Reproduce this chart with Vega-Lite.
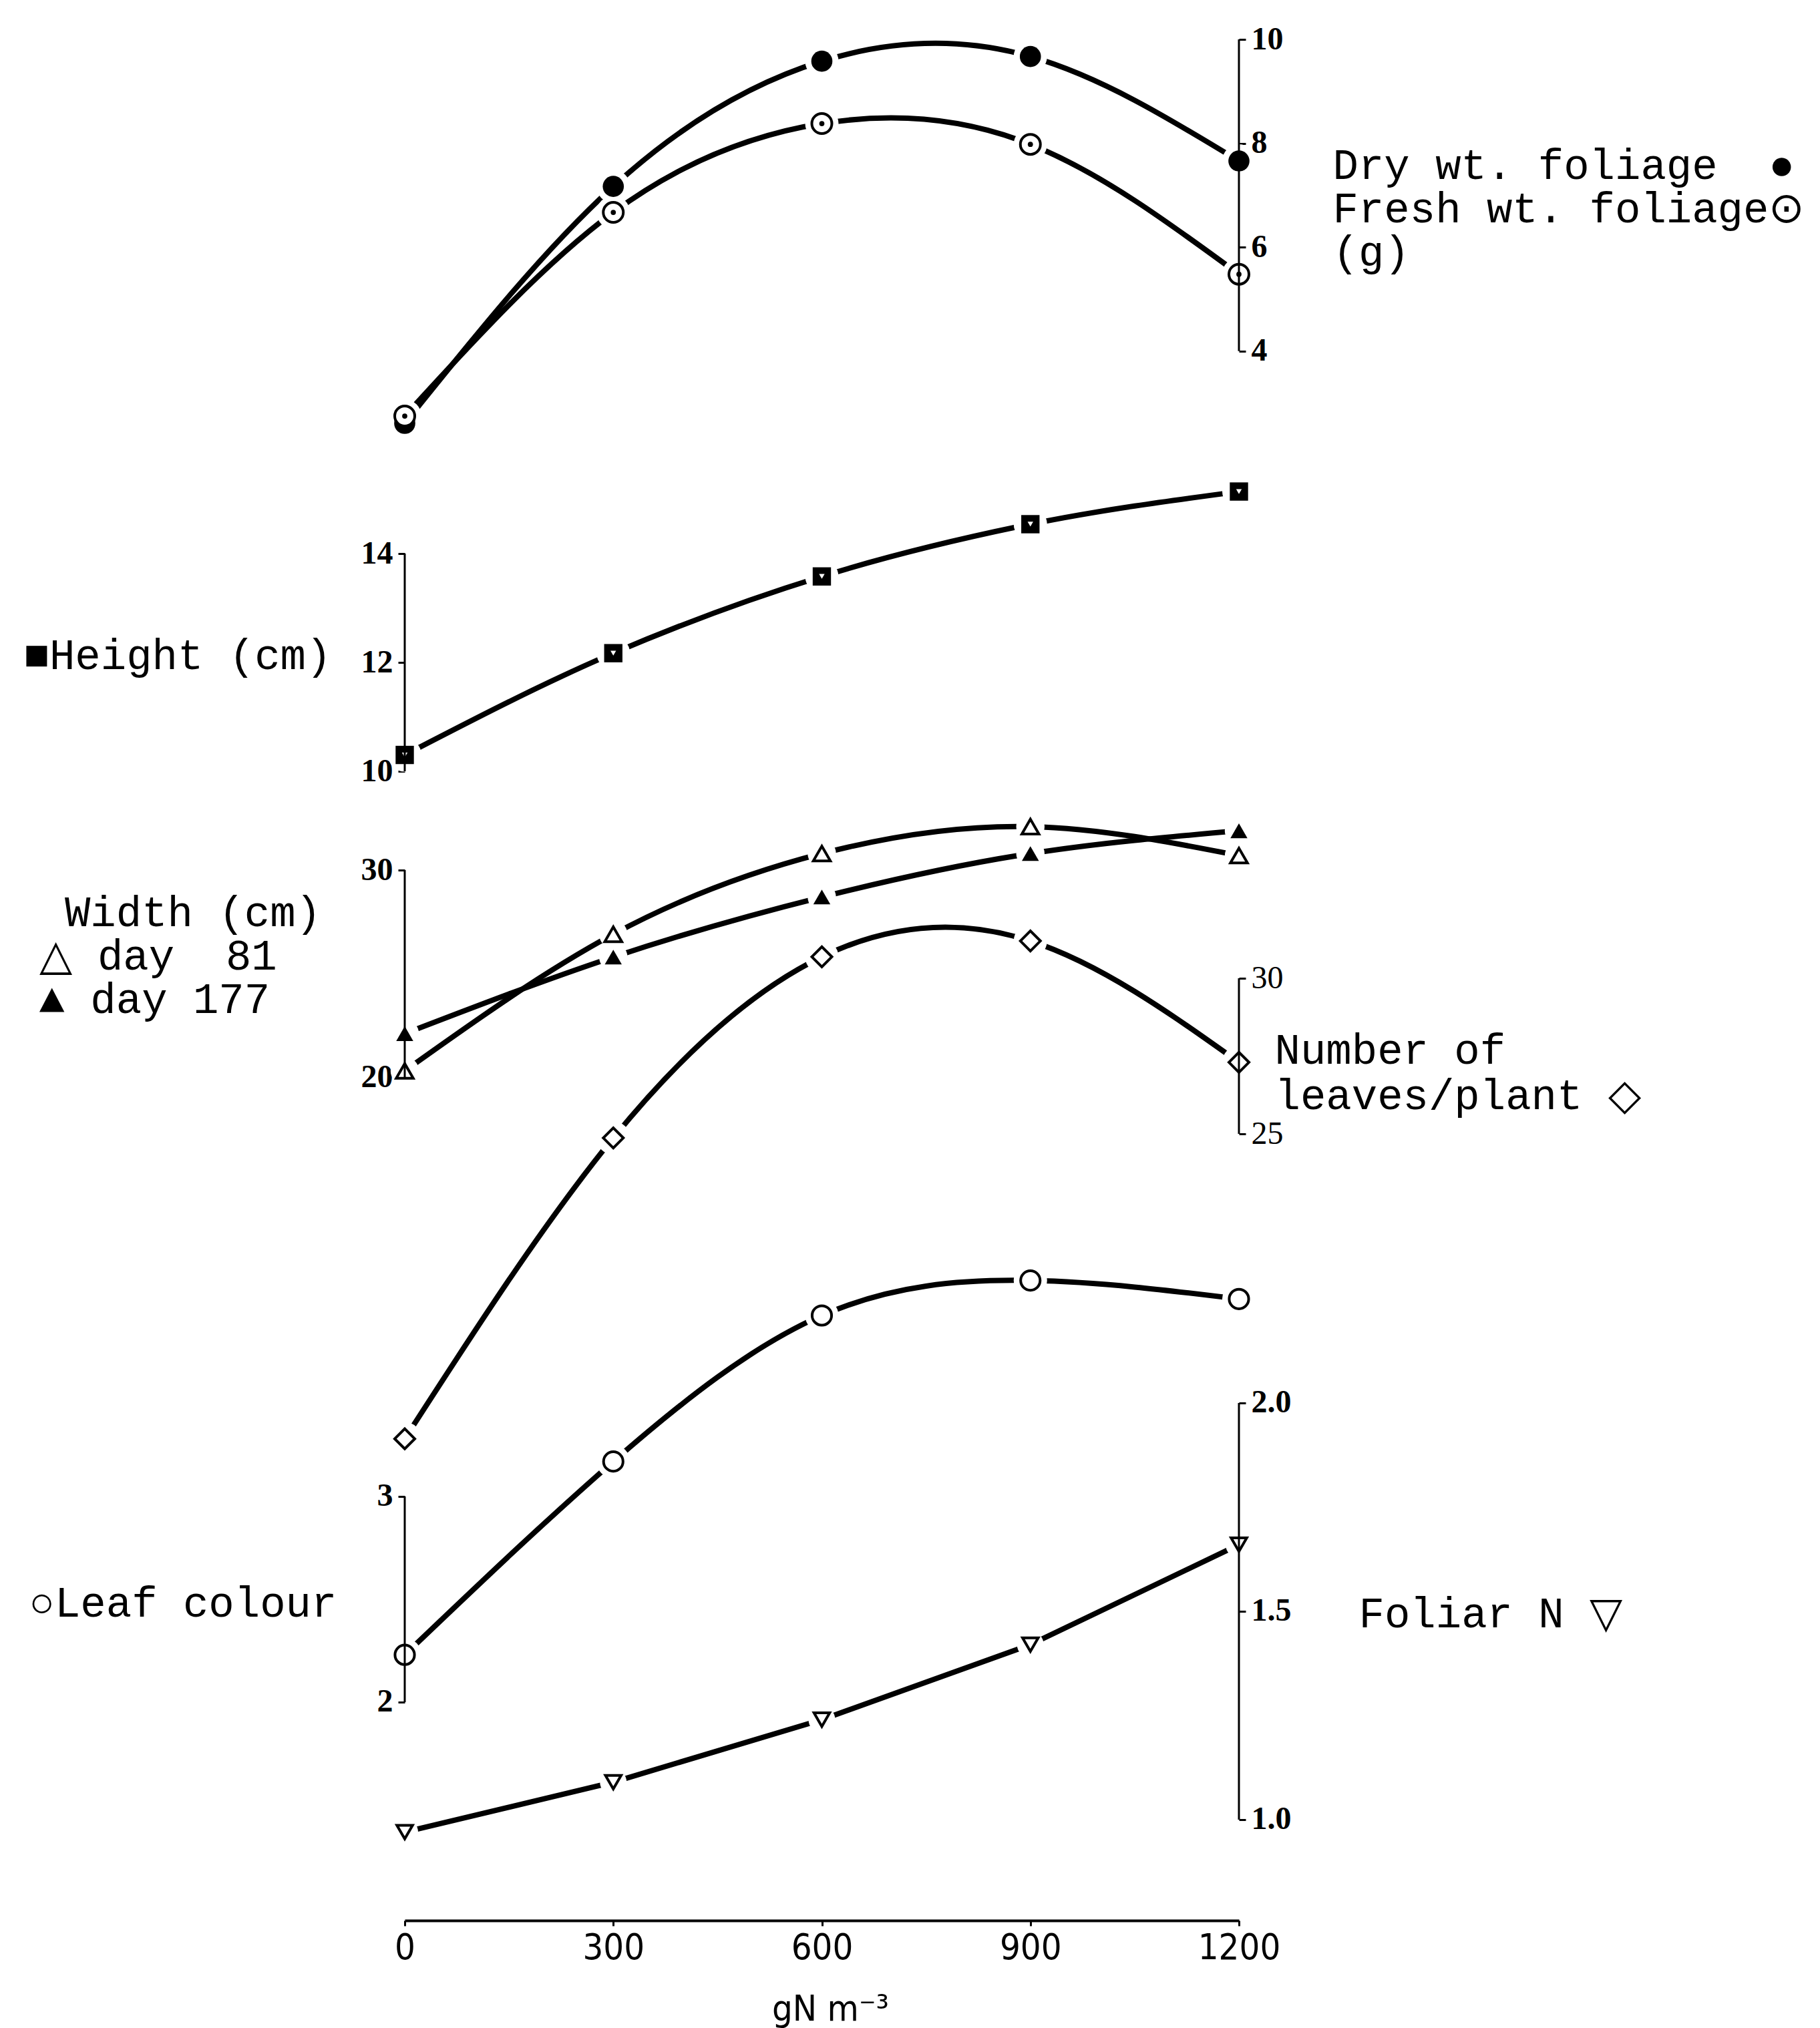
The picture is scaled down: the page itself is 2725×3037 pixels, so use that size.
{
  "$schema": "https://vega.github.io/schema/vega-lite/v6.json",
  "width": 1249,
  "height": 2876,
  "autosize": {"type": "none"},
  "padding": {"left": 606, "top": 0, "right": 870, "bottom": 161},
  "background": "white",
  "config": {
    "view": {"stroke": null},
    "axis": {
      "grid": false,
      "domain": false,
      "tickColor": "black",
      "labelColor": "black",
      "titleColor": "black",
      "labelFont": "Liberation Serif",
      "labelFontWeight": "bold",
      "labelFontSize": 48,
      "tickWidth": 3,
      "tickSize": 10,
      "labelPadding": 8,
      "format": "d",
      "titleFont": "Liberation Mono",
      "titleFontSize": 64,
      "titleFontWeight": "normal",
      "titleAngle": 0,
      "titleBaseline": "alphabetic",
      "titleAlign": "left",
      "titleLineHeight": 65
    },
    "axisX": {
      "domain": true,
      "domainColor": "black",
      "domainWidth": 4,
      "tickSize": 8,
      "labelFont": "'Liberation Sans Narrow', 'DejaVu Sans Condensed', 'Liberation Sans', sans-serif",
      "labelFontWeight": "normal",
      "labelFontSize": 54,
      "labelFlush": false,
      "labelPadding": 6,
      "titleFont": "'Liberation Sans Narrow', 'DejaVu Sans Condensed', 'Liberation Sans', sans-serif",
      "titleFontSize": 54,
      "titleAlign": "center",
      "titleX": 637,
      "titleY": 149
    }
  },
  "datasets": {
    "main": [
      {"series": "dry", "N": 0, "value": 2.61},
      {"series": "dry", "N": 300, "value": 7.17},
      {"series": "dry", "N": 600, "value": 9.58},
      {"series": "dry", "N": 900, "value": 9.67},
      {"series": "dry", "N": 1200, "value": 7.66},
      {"series": "fresh", "N": 0, "value": 2.75},
      {"series": "fresh", "N": 300, "value": 6.67},
      {"series": "fresh", "N": 600, "value": 8.38},
      {"series": "fresh", "N": 900, "value": 7.98},
      {"series": "fresh", "N": 1200, "value": 5.48},
      {"series": "height", "N": 0, "value": 10.3},
      {"series": "height", "N": 300, "value": 12.17},
      {"series": "height", "N": 600, "value": 13.58},
      {"series": "height", "N": 900, "value": 14.54},
      {"series": "height", "N": 1200, "value": 15.14},
      {"series": "w81", "N": 0, "value": 20.3},
      {"series": "w81", "N": 300, "value": 26.9},
      {"series": "w81", "N": 600, "value": 30.8},
      {"series": "w81", "N": 900, "value": 32.1},
      {"series": "w81", "N": 1200, "value": 30.7},
      {"series": "w177", "N": 0, "value": 22.1},
      {"series": "w177", "N": 300, "value": 25.8},
      {"series": "w177", "N": 600, "value": 28.7},
      {"series": "w177", "N": 900, "value": 30.8},
      {"series": "w177", "N": 1200, "value": 31.9},
      {"series": "leaves", "N": 0, "value": 15.2},
      {"series": "leaves", "N": 300, "value": 24.87},
      {"series": "leaves", "N": 600, "value": 30.69},
      {"series": "leaves", "N": 900, "value": 31.2},
      {"series": "leaves", "N": 1200, "value": 27.3},
      {"series": "colour", "N": 0, "value": 2.23},
      {"series": "colour", "N": 300, "value": 3.17},
      {"series": "colour", "N": 600, "value": 3.88},
      {"series": "colour", "N": 900, "value": 4.05},
      {"series": "colour", "N": 1200, "value": 3.96},
      {"series": "foliarN", "N": 0, "value": 0.97},
      {"series": "foliarN", "N": 300, "value": 1.09},
      {"series": "foliarN", "N": 600, "value": 1.24},
      {"series": "foliarN", "N": 900, "value": 1.42},
      {"series": "foliarN", "N": 1200, "value": 1.66}
    ],
    "axes": [
      {"axis": "foliage", "N": 1200, "lo": 4, "hi": 10},
      {"axis": "height", "N": 0, "lo": 10, "hi": 14},
      {"axis": "width", "N": 0, "lo": 20, "hi": 30},
      {"axis": "leaves", "N": 1200, "lo": 25, "hi": 30},
      {"axis": "colour", "N": 0, "lo": 2, "hi": 3},
      {"axis": "foliarN", "N": 1200, "lo": 1, "hi": 2}
    ]
  },
  "layer": [
    {
      "data": {"name": "main"},
      "transform": [{"filter": "datum.series == 'dry' || datum.series == 'fresh'"}],
      "layer": [
        {
          "mark": {"type": "line", "interpolate": "natural", "color": "black", "strokeWidth": 8},
          "encoding": {
            "x": {"field": "N", "type": "quantitative", "scale": {"domain": [0, 1200], "nice": false, "zero": false}, "title": "gN m⁻³", "axis": {"values": [0, 300, 600, 900, 1200], "format": "d"}},
            "y": {"field": "value", "type": "quantitative", "scale": {"domain": [-26.2082, 10.7584], "nice": false, "zero": false},
              "axis": {"orient": "right", "values": [4, 6, 8, 10], "format": "d", "title": ["Dry wt. foliage\u00a0\u00a0●", "Fresh wt. foliage⊙", "(g)"], "titleX": 140, "titleY": 267}},
            "detail": {"field": "series"}
          }
        },
        {
          "mark": {"type": "point", "filled": true, "color": "white", "opacity": 1, "size": 2500, "shape": "circle"},
          "encoding": {"x": {"field": "N", "type": "quantitative"}, "y": {"field": "value", "type": "quantitative"}}
        },
        {
          "transform": [{"filter": "datum.series == 'dry'"}],
          "mark": {"type": "point", "filled": true, "color": "black", "opacity": 1, "size": 1000, "shape": "circle"},
          "encoding": {"x": {"field": "N", "type": "quantitative"}, "y": {"field": "value", "type": "quantitative"}}
        },
        {
          "transform": [{"filter": "datum.series == 'fresh'"}],
          "mark": {"type": "point", "filled": true, "fill": "white", "stroke": "black", "strokeWidth": 4, "opacity": 1, "size": 900, "shape": "circle"},
          "encoding": {"x": {"field": "N", "type": "quantitative"}, "y": {"field": "value", "type": "quantitative"}}
        },
        {
          "transform": [{"filter": "datum.series == 'fresh'"}],
          "mark": {"type": "point", "filled": true, "color": "black", "opacity": 1, "size": 60, "shape": "circle"},
          "encoding": {"x": {"field": "N", "type": "quantitative"}, "y": {"field": "value", "type": "quantitative"}}
        },
        {
          "data": {"name": "axes"},
          "transform": [{"filter": "datum.axis == 'foliage'"}],
          "mark": {"type": "rule", "color": "black", "strokeWidth": 3},
          "encoding": {"x": {"field": "N", "type": "quantitative"}, "y": {"field": "lo", "type": "quantitative"}, "y2": {"field": "hi"}}
        }
      ]
    },
    {
      "data": {"name": "main"},
      "transform": [{"filter": "datum.series == 'height'"}],
      "layer": [
        {
          "mark": {"type": "line", "interpolate": "monotone", "color": "black", "strokeWidth": 8},
          "encoding": {
            "x": {"field": "N", "type": "quantitative"},
            "y": {"field": "value", "type": "quantitative", "scale": {"domain": [-11.1165, 24.1718], "nice": false, "zero": false},
              "axis": {"orient": "left", "values": [10, 12, 14], "format": "d", "title": "■Height (cm)", "titleX": -571, "titleY": 1001}}
          }
        },
        {
          "mark": {"type": "point", "filled": true, "color": "white", "opacity": 1, "size": 2500, "shape": "circle"},
          "encoding": {"x": {"field": "N", "type": "quantitative"}, "y": {"field": "value", "type": "quantitative"}}
        },
        {
          "mark": {"type": "point", "filled": true, "color": "black", "opacity": 1, "size": 750, "shape": "square"},
          "encoding": {"x": {"field": "N", "type": "quantitative"}, "y": {"field": "value", "type": "quantitative"}}
        },
        {
          "mark": {"type": "point", "filled": true, "color": "white", "opacity": 1, "size": 70, "shape": "triangle-down"},
          "encoding": {"x": {"field": "N", "type": "quantitative"}, "y": {"field": "value", "type": "quantitative"}}
        },
        {
          "data": {"name": "axes"},
          "transform": [{"filter": "datum.axis == 'height'"}],
          "mark": {"type": "rule", "color": "black", "strokeWidth": 3},
          "encoding": {"x": {"field": "N", "type": "quantitative"}, "y": {"field": "lo", "type": "quantitative"}, "y2": {"field": "hi"}}
        }
      ]
    },
    {
      "data": {"name": "main"},
      "transform": [{"filter": "datum.series == 'w81' || datum.series == 'w177'"}],
      "layer": [
        {
          "mark": {"type": "line", "interpolate": "natural", "color": "black", "strokeWidth": 8},
          "encoding": {
            "x": {"field": "N", "type": "quantitative"},
            "y": {"field": "value", "type": "quantitative", "scale": {"domain": [-20.7419, 72.0323], "nice": false, "zero": false},
              "axis": {"orient": "left", "values": [20, 30], "format": "d", "title": ["\u200b\u00a0Width (cm)", "△\u00a0day\u00a0\u00a081", "▲\u00a0day\u00a0177"], "titleX": -548, "titleY": 1386}},
            "detail": {"field": "series"}
          }
        },
        {
          "mark": {"type": "point", "filled": true, "color": "white", "opacity": 1, "size": 1800, "shape": "circle"},
          "encoding": {"x": {"field": "N", "type": "quantitative"}, "y": {"field": "value", "type": "quantitative"}}
        },
        {
          "transform": [{"filter": "datum.series == 'w81'"}],
          "mark": {"type": "point", "filled": true, "fill": "white", "stroke": "black", "strokeWidth": 4, "opacity": 1, "size": 650, "shape": "triangle-up"},
          "encoding": {"x": {"field": "N", "type": "quantitative"}, "y": {"field": "value", "type": "quantitative"}}
        },
        {
          "transform": [{"filter": "datum.series == 'w177'"}],
          "mark": {"type": "point", "filled": true, "color": "black", "opacity": 1, "size": 650, "shape": "triangle-up"},
          "encoding": {"x": {"field": "N", "type": "quantitative"}, "y": {"field": "value", "type": "quantitative"}}
        },
        {
          "data": {"name": "axes"},
          "transform": [{"filter": "datum.axis == 'width'"}],
          "mark": {"type": "rule", "color": "black", "strokeWidth": 3},
          "encoding": {"x": {"field": "N", "type": "quantitative"}, "y": {"field": "lo", "type": "quantitative"}, "y2": {"field": "hi"}}
        }
      ]
    },
    {
      "data": {"name": "main"},
      "transform": [{"filter": "datum.series == 'leaves'"}],
      "layer": [
        {
          "mark": {"type": "line", "interpolate": "natural", "color": "black", "strokeWidth": 8},
          "encoding": {
            "x": {"field": "N", "type": "quantitative"},
            "y": {"field": "value", "type": "quantitative", "scale": {"domain": [-0.2789, 61.4378], "nice": false, "zero": false},
              "axis": {"orient": "right", "values": [25, 30], "format": "d", "labelFontWeight": "normal", "title": ["Number of", "leaves/plant ◇"], "titleX": 53, "titleY": 1592, "titleLineHeight": 68}}
          }
        },
        {
          "mark": {"type": "point", "filled": true, "color": "white", "opacity": 1, "size": 2500, "shape": "circle"},
          "encoding": {"x": {"field": "N", "type": "quantitative"}, "y": {"field": "value", "type": "quantitative"}}
        },
        {
          "mark": {"type": "point", "filled": true, "fill": "white", "stroke": "black", "strokeWidth": 4, "opacity": 1, "size": 900, "shape": "diamond"},
          "encoding": {"x": {"field": "N", "type": "quantitative"}, "y": {"field": "value", "type": "quantitative"}}
        },
        {
          "data": {"name": "axes"},
          "transform": [{"filter": "datum.axis == 'leaves'"}],
          "mark": {"type": "rule", "color": "black", "strokeWidth": 3},
          "encoding": {"x": {"field": "N", "type": "quantitative"}, "y": {"field": "lo", "type": "quantitative"}, "y2": {"field": "hi"}}
        }
      ]
    },
    {
      "data": {"name": "main"},
      "transform": [{"filter": "datum.series == 'colour'"}],
      "layer": [
        {
          "mark": {"type": "line", "interpolate": "natural", "color": "black", "strokeWidth": 8},
          "encoding": {
            "x": {"field": "N", "type": "quantitative"},
            "y": {"field": "value", "type": "quantitative", "scale": {"domain": [0.9383, 10.276], "nice": false, "zero": false},
              "axis": {"orient": "left", "values": [2, 3], "format": "d", "title": "○Leaf colour", "titleX": -563, "titleY": 2420}}
          }
        },
        {
          "mark": {"type": "point", "filled": true, "color": "white", "opacity": 1, "size": 2500, "shape": "circle"},
          "encoding": {"x": {"field": "N", "type": "quantitative"}, "y": {"field": "value", "type": "quantitative"}}
        },
        {
          "mark": {"type": "point", "filled": true, "fill": "white", "stroke": "black", "strokeWidth": 4, "opacity": 1, "size": 850, "shape": "circle"},
          "encoding": {"x": {"field": "N", "type": "quantitative"}, "y": {"field": "value", "type": "quantitative"}}
        },
        {
          "data": {"name": "axes"},
          "transform": [{"filter": "datum.axis == 'colour'"}],
          "mark": {"type": "rule", "color": "black", "strokeWidth": 3},
          "encoding": {"x": {"field": "N", "type": "quantitative"}, "y": {"field": "lo", "type": "quantitative"}, "y2": {"field": "hi"}}
        }
      ]
    },
    {
      "data": {"name": "main"},
      "transform": [{"filter": "datum.series == 'foliarN'"}],
      "layer": [
        {
          "mark": {"type": "line", "interpolate": "linear", "color": "black", "strokeWidth": 8},
          "encoding": {
            "x": {"field": "N", "type": "quantitative"},
            "y": {"field": "value", "type": "quantitative", "scale": {"domain": [0.758, 5.367], "nice": false, "zero": false},
              "axis": {"orient": "right", "values": [1, 1.5, 2], "format": ".1f", "title": "Foliar N ▽", "titleX": 179, "titleY": 2436}}
          }
        },
        {
          "mark": {"type": "point", "filled": true, "color": "white", "opacity": 1, "size": 1600, "shape": "circle"},
          "encoding": {"x": {"field": "N", "type": "quantitative"}, "y": {"field": "value", "type": "quantitative"}}
        },
        {
          "mark": {"type": "point", "filled": true, "fill": "white", "stroke": "black", "strokeWidth": 4, "opacity": 1, "size": 550, "shape": "triangle-down"},
          "encoding": {"x": {"field": "N", "type": "quantitative"}, "y": {"field": "value", "type": "quantitative"}}
        },
        {
          "data": {"name": "axes"},
          "transform": [{"filter": "datum.axis == 'foliarN'"}],
          "mark": {"type": "rule", "color": "black", "strokeWidth": 3},
          "encoding": {"x": {"field": "N", "type": "quantitative"}, "y": {"field": "lo", "type": "quantitative"}, "y2": {"field": "hi"}}
        }
      ]
    }
  ],
  "resolve": {"scale": {"y": "independent"}, "axis": {"y": "independent"}}
}
